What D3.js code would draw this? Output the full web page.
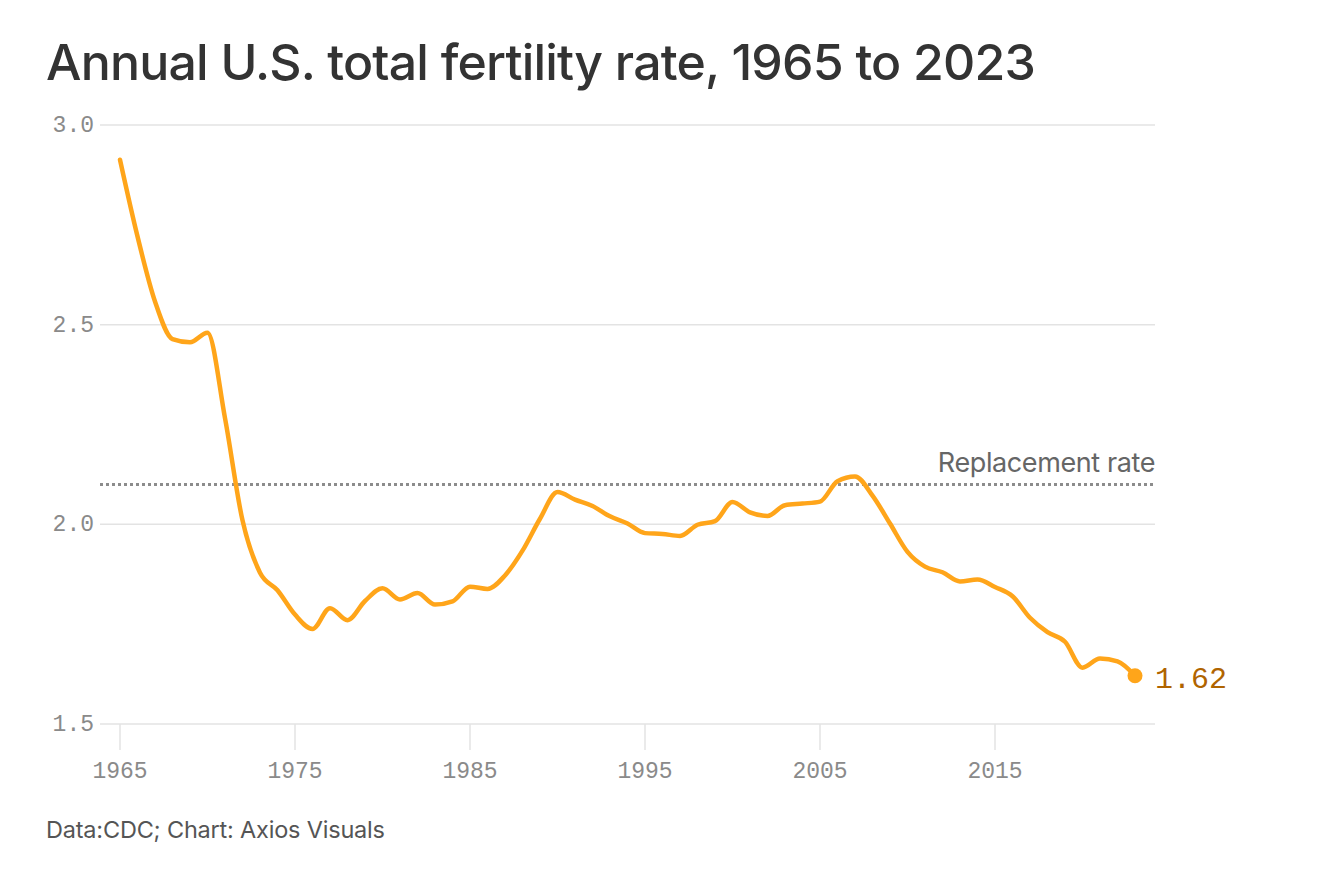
<!DOCTYPE html>
<html lang="en">
<head>
  <meta charset="UTF-8">
  <title>Annual U.S. total fertility rate</title>
  <script src="https://d3js.org/d3.v7.min.js"></script>
  <style>
    body { margin: 0; background: #fff; }
    .title { font: 500 50px Inter, sans-serif; fill: #333; letter-spacing: -0.8px; }
    .tick-label { font: 23px "Liberation Mono", monospace; fill: #8a8a8a; }
    .grid { stroke: #e3e3e3; stroke-width: 1.5px; }
    .note { font: 27px Inter, sans-serif; fill: #666; letter-spacing: -0.4px; }
    .source { font: 23.5px Inter, sans-serif; fill: #555; letter-spacing: -0.2px; }
  </style>
</head>
<body>
<script>
  // CDC total fertility rate, one value per year 1965..2023
  const years = d3.range(1965, 2024);
  const tfr = [
    2.913, 2.721, 2.558, 2.464, 2.456, 2.480, 2.266, 2.010, 1.879, 1.835,
    1.774, 1.738, 1.790, 1.760, 1.808, 1.840, 1.812, 1.828, 1.799, 1.807,
    1.844, 1.838, 1.872, 1.934, 2.014, 2.081, 2.062, 2.046, 2.020, 2.002,
    1.978, 1.976, 1.971, 1.999, 2.008, 2.056, 2.030, 2.021, 2.048, 2.052,
    2.057, 2.108, 2.120, 2.072, 2.002, 1.931, 1.894, 1.880, 1.857, 1.862,
    1.843, 1.820, 1.766, 1.730, 1.706, 1.641, 1.664, 1.657, 1.621
  ];
  const yTicks = [1.5, 2.0, 2.5, 3.0];
  const xTicks = [1965, 1975, 1985, 1995, 2005, 2015];
  const replacement = 2.1;

  const width = 1344, height = 895;
  const svg = d3.select("body").append("svg")
    .attr("width", width)
    .attr("height", height);

  const x = d3.scaleLinear().domain([1965, 2023]).range([120, 1135]);
  const y = d3.scaleLinear().domain([1.5, 3.0]).range([724, 125]);
  const left = 100, right = 1155;

  // title
  svg.append("text").attr("class", "title")
    .attr("x", 46).attr("y", 80)
    .text("Annual U.S. total fertility rate, 1965 to 2023");

  // horizontal grid + y labels
  svg.selectAll(".ygrid").data(yTicks).enter().append("line")
    .attr("class", "grid")
    .attr("x1", left).attr("x2", right)
    .attr("y1", d => y(d)).attr("y2", d => y(d));
  svg.selectAll(".ylab").data(yTicks).enter().append("text")
    .attr("class", "tick-label")
    .attr("x", 94).attr("y", d => y(d) + 7)
    .attr("text-anchor", "end")
    .text(d3.format(".1f"));

  // x ticks + labels
  svg.selectAll(".xtick").data(xTicks).enter().append("line")
    .attr("class", "grid")
    .attr("x1", d => x(d)).attr("x2", d => x(d))
    .attr("y1", y(1.5)).attr("y2", y(1.5) + 26);
  svg.selectAll(".xlab").data(xTicks).enter().append("text")
    .attr("class", "tick-label")
    .attr("x", d => x(d)).attr("y", 778)
    .attr("text-anchor", "middle")
    .text(d => d);

  // replacement rate
  svg.append("line")
    .attr("x1", left).attr("x2", right)
    .attr("y1", y(replacement)).attr("y2", y(replacement))
    .attr("stroke", "#8c8c8c").attr("stroke-width", 3)
    .attr("stroke-dasharray", "3,3");
  svg.append("text").attr("class", "note")
    .attr("x", right).attr("y", y(replacement) - 12)
    .attr("text-anchor", "end")
    .text("Replacement rate");

  // line
  const line = d3.line()
    .x((d, i) => x(years[i]))
    .y(d => y(d))
    .curve(d3.curveMonotoneX);
  svg.append("path")
    .datum(tfr)
    .attr("d", line)
    .attr("fill", "none")
    .attr("stroke", "#ffa51a")
    .attr("stroke-width", 4.5)
    .attr("stroke-linejoin", "round")
    .attr("stroke-linecap", "round");

  const last = tfr.length - 1;
  svg.append("circle")
    .attr("cx", x(years[last])).attr("cy", y(tfr[last]))
    .attr("r", 7.5).attr("fill", "#ffa51a");
  svg.append("text")
    .attr("x", x(years[last]) + 20).attr("y", y(tfr[last]) + 12)
    .style("font", "30px 'Liberation Mono', monospace")
    .attr("fill", "#b06400")
    .text(d3.format(".2f")(tfr[last]));

  // source
  svg.append("text").attr("class", "source")
    .attr("x", 46).attr("y", 838)
    .text("Data:CDC; Chart: Axios Visuals");
</script>
</body>
</html>
